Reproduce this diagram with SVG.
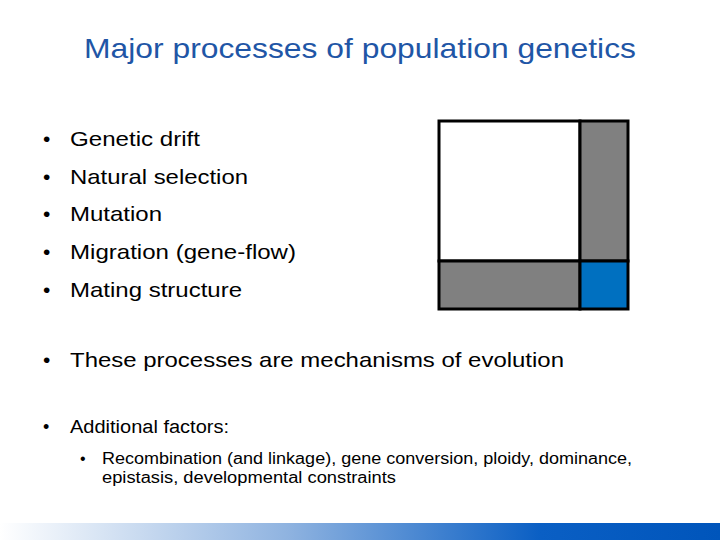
<svg xmlns="http://www.w3.org/2000/svg" width="720" height="540" viewBox="0 0 720 540">
<defs>
<linearGradient id="bar" x1="0" x2="1" y1="0" y2="0">
<stop offset="0" stop-color="#ffffff"/>
<stop offset="0.4" stop-color="#8fb3e0"/>
<stop offset="0.75" stop-color="#0a5fc4"/>
<stop offset="1" stop-color="#0055bb"/>
</linearGradient>
<style>
.t{font-family:"Liberation Sans",Arial,sans-serif;fill:#000}
.b{font-size:21px}
.s{font-size:16px}
.box{stroke:#000;stroke-width:3}
</style>
</defs>
<rect width="720" height="540" fill="#fff"/>
<text x="360" y="58" text-anchor="middle" font-family="Liberation Sans,Arial,sans-serif" font-size="28" fill="#1f56a6" textLength="552" lengthAdjust="spacingAndGlyphs">Major processes of population genetics</text>
<g class="t b">
<text x="43" y="146">•</text><text x="70" y="146" textLength="130" lengthAdjust="spacingAndGlyphs">Genetic drift</text>
<text x="43" y="184">•</text><text x="70" y="184" textLength="178" lengthAdjust="spacingAndGlyphs">Natural selection</text>
<text x="43" y="221">•</text><text x="70" y="221" textLength="92" lengthAdjust="spacingAndGlyphs">Mutation</text>
<text x="43" y="259">•</text><text x="70" y="259" textLength="226" lengthAdjust="spacingAndGlyphs">Migration (gene-flow)</text>
<text x="43" y="297">•</text><text x="70" y="297" textLength="172" lengthAdjust="spacingAndGlyphs">Mating structure</text>
<text x="43" y="367">•</text><text x="70" y="367" textLength="494" lengthAdjust="spacingAndGlyphs">These processes are mechanisms of evolution</text>
</g>
<g class="t">
<text x="43" y="433" font-size="18">•</text><text x="70" y="433" font-size="18" textLength="159" lengthAdjust="spacingAndGlyphs">Additional factors:</text>
<text x="80" y="464" class="s">•</text><text x="102" y="464" class="s" textLength="530" lengthAdjust="spacingAndGlyphs">Recombination (and linkage), gene conversion, ploidy, dominance,</text>
<text x="102" y="483" class="s" textLength="294" lengthAdjust="spacingAndGlyphs">epistasis,  developmental constraints</text>
</g>
<g id="squares">
<rect class="box" x="439" y="121" width="141" height="140" fill="#fff"/>
<rect class="box" x="580" y="121" width="48" height="140" fill="#808080"/>
<rect class="box" x="439" y="261" width="141" height="48" fill="#808080"/>
<rect class="box" x="580" y="261" width="48" height="48" fill="#0070c0"/>
</g>
<rect x="0" y="523" width="720" height="17" fill="url(#bar)"/>
</svg>
